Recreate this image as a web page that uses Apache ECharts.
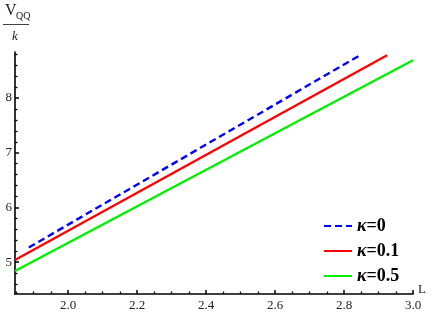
<!DOCTYPE html>
<html><head><meta charset="utf-8">
<script src="https://cdn.jsdelivr.net/npm/echarts@6/dist/echarts.min.js"></script>
<style>html,body{margin:0;padding:0;background:#fff}#c{width:436px;height:312px}</style>
</head><body><div id="c"></div>
<script>
// Data
const seriesNames = ['κ=0', 'κ=0.1', 'κ=0.5'];
const kappa0 = [[1.886, 5.27], [2.846, 8.78]];
const kappa01 = [[1.846, 5.04], [2.925, 8.78]];
const kappa05 = [[1.846, 4.84], [3.0, 8.69]];
const xTicks = [2.0, 2.2, 2.4, 2.6, 2.8, 3.0];
const xMinorTicks = [1.85, 1.9, 1.95, 2.05, 2.1, 2.15, 2.25, 2.3, 2.35, 2.45, 2.5, 2.55, 2.65, 2.7, 2.75, 2.85, 2.9, 2.95];
const yTicks = [5, 6, 7, 8];
const yMinorTicks = [4.6, 4.8, 5.2, 5.4, 5.6, 5.8, 6.2, 6.4, 6.6, 6.8, 7.2, 7.4, 7.6, 7.8, 8.2, 8.4, 8.6, 8.8];

const FONT = '"Liberation Serif", "DejaVu Serif", serif';
const chart = echarts.init(document.getElementById('c'), null, {renderer: 'canvas'});
const xRange = {min: 1.846, max: 3.0};
const yRange = {min: 4.42, max: 8.84};

chart.setOption({
  animation: false,
  backgroundColor: '#fff',
  grid: {left: 15, right: 23, top: 52, bottom: 17, containLabel: false},
  xAxis: [{
    type: 'value', ...xRange, position: 'bottom',
    axisLine: {show: true, onZero: false, lineStyle: {color: '#000', width: 1.6}},
    axisTick: {show: true, inside: true, length: 4, customValues: xTicks, lineStyle: {color: '#000', width: 1.5}},
    axisLabel: {show: true, customValues: xTicks, formatter: v => v.toFixed(1), color: '#222', fontFamily: FONT, fontSize: 13, margin: 5},
    splitLine: {show: false},
    name: 'L', nameLocation: 'end', nameGap: 5,
    nameTextStyle: {fontFamily: FONT, fontSize: 13, color: '#222', verticalAlign: 'bottom', padding: [0,0,-2,0]}
  }, {
    type: 'value', ...xRange, position: 'bottom',
    axisLine: {show: false},
    axisTick: {show: true, inside: true, length: 2.5, customValues: xMinorTicks, lineStyle: {color: '#000', width: 1.3}},
    axisLabel: {show: false}, splitLine: {show: false}
  }],
  yAxis: [{
    type: 'value', ...yRange, position: 'left',
    axisLine: {show: true, onZero: false, lineStyle: {color: '#000', width: 1.6}},
    axisTick: {show: true, inside: true, length: 4, customValues: yTicks, lineStyle: {color: '#000', width: 1.5}},
    axisLabel: {show: true, customValues: yTicks, formatter: v => String(v), color: '#222', fontFamily: FONT, fontSize: 13, margin: 3},
    splitLine: {show: false}
  }, {
    type: 'value', ...yRange, position: 'left',
    axisLine: {show: false},
    axisTick: {show: true, inside: true, length: 2.5, customValues: yMinorTicks, lineStyle: {color: '#000', width: 1.3}},
    axisLabel: {show: false}, splitLine: {show: false}
  }],
  legend: {
    orient: 'vertical', left: 318, top: 212, itemGap: 7,
    itemWidth: 28, itemHeight: 14,
    data: seriesNames,
    itemStyle: {opacity: 0},
    formatter: n => '{k|κ}{r|' + n.slice(1) + '}',
    textStyle: {
      rich: {
        k: {fontFamily: FONT, fontStyle: 'italic', fontWeight: 'bold', fontSize: 18, color: '#000'},
        r: {fontFamily: FONT, fontWeight: 'bold', fontSize: 18, color: '#000'}
      }
    }
  },
  graphic: [
    {type: 'text', left: 5, top: 3, style: {text: 'V', font: '16px ' + FONT, fill: '#222'}},
    {type: 'text', left: 16, top: 11, style: {text: 'QQ', font: '10px ' + FONT, fill: '#222'}},
    {type: 'line', shape: {x1: 3, y1: 24.5, x2: 29, y2: 24.5}, style: {stroke: '#444', lineWidth: 1}},
    {type: 'text', left: 12, top: 30, style: {text: 'k', font: 'italic 13px ' + FONT, fill: '#222'}}
  ],
  series: [
    {name: seriesNames[0], type: 'line', data: kappa0, symbol: 'none', lineStyle: {color: '#0000ff', width: 2.4, type: [7, 4]}, itemStyle: {color: '#0000ff'}},
    {name: seriesNames[1], type: 'line', data: kappa01, symbol: 'none', lineStyle: {color: '#ff0000', width: 2.4}, itemStyle: {color: '#ff0000'}},
    {name: seriesNames[2], type: 'line', data: kappa05, symbol: 'none', lineStyle: {color: '#00ee00', width: 2.4}, itemStyle: {color: '#00ee00'}}
  ]
});
</script></body></html>
